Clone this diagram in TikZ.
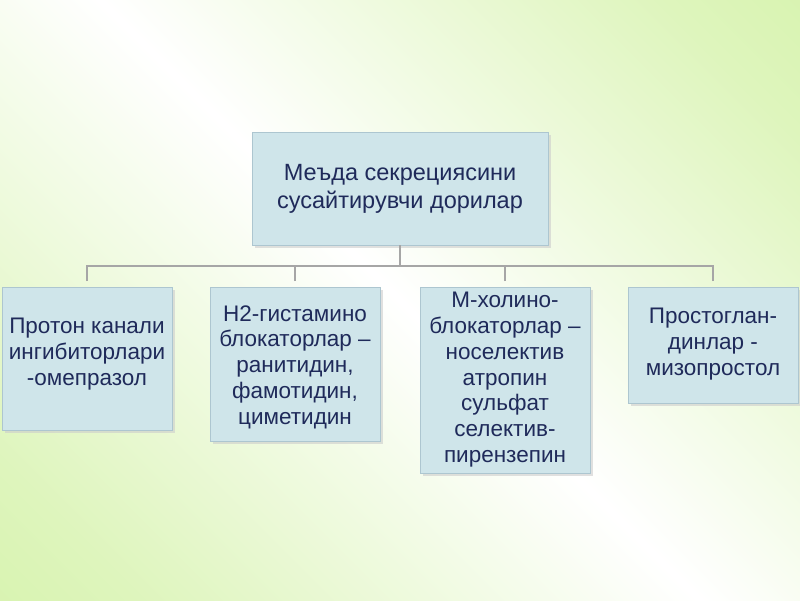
\documentclass[tikz,border=0pt]{standalone}
\usepackage{fontspec}
\setmainfont{Liberation Sans}
\definecolor{grn}{HTML}{BDEB7A}
\pgfdeclarehorizontalshading{bgsh}{100bp}{color(0bp)=(grn); color(30bp)=(grn!50!white); color(50bp)=(white); color(70bp)=(grn!50!white); color(100bp)=(grn)}
\begin{document}
\begin{tikzpicture}[x=1pt,y=-1pt,
  box/.style={draw=white!70!cyan!60!gray,line width=0.6pt,fill=boxc,text=txt,align=center,font=\fontsize{22.5}{25.8}\selectfont,inner sep=0pt},
  conn/.style={draw=gray!70,line width=1.5pt}]
\definecolor{boxc}{HTML}{CFE5EA}
\definecolor{txt}{HTML}{1F2A5A}
\useasboundingbox (0,0) rectangle (800,600);
\begin{scope}
\clip (0,0) rectangle (800,600);
\shade[shading=bgsh,shading angle=45] (-100,-200) rectangle (900,800);
\end{scope}
\foreach \n/\x/\y/\w/\h in {t/252/132/296/113,a/2/287/170/143,b/210/287/170/154,c/420/287/170/186,d/628/287/170/116}{
  \fill[gray!40,opacity=0.6] (\x+3,\y+3) rectangle ++(\w,\h);
}
\node[box,minimum width=296pt,minimum height=113pt,font=\fontsize{23.5}{28}\selectfont] (t) at (400,188.5) {Меъда секрециясини\\сусайтирувчи дорилар};
\node[box,minimum width=170pt,minimum height=143pt,anchor=north] (a) at (87,287) {};
\node[box,minimum width=170pt,minimum height=154pt,anchor=north] (b) at (295,287) {};
\node[box,minimum width=170pt,minimum height=186pt,anchor=north] (c) at (505,287) {};
\node[box,minimum width=170pt,minimum height=116pt,anchor=north] (d) at (713,287) {};
\node[box,draw=none,fill=none,anchor=north] (at) at (87,318) {Протон канали\\ингибиторлари\\-омепразол};
\node[box,draw=none,fill=none,anchor=north] (bt) at (295,305) {Н2-гистамино\\блокаторлар –\\ранитидин,\\фамотидин,\\циметидин};
\node[box,draw=none,fill=none,anchor=north] (ct) at (505,292) {М-холино-\\блокаторлар –\\носелектив\\атропин\\сульфат\\селектив-\\пирензепин};
\node[box,draw=none,fill=none,anchor=north] (dt) at (713,308) {Простоглан-\\динлар -\\мизопростол};
\coordinate (j) at (400,266);
\draw[conn] (t.south) -- (j);
\draw[conn] (a.north) ++(0,-6) |- (j);
\draw[conn] (d.north) ++(0,-6) |- (j);
\draw[conn] (b.north) ++(0,-6) -- ++(0,-15);
\draw[conn] (c.north) ++(0,-6) -- ++(0,-15);
\end{tikzpicture}
\end{document}
